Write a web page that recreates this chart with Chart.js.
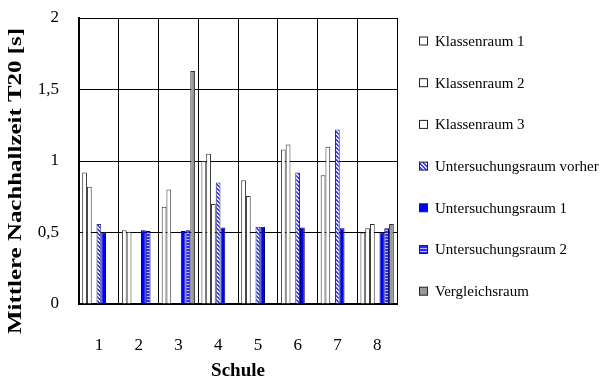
<!DOCTYPE html>
<html>
<head>
<meta charset="utf-8">
<script src="https://cdn.jsdelivr.net/npm/chart.js@4/dist/chart.umd.min.js"></script>
<style>
  html, body { margin: 0; padding: 0; background: #fff; }
  #chart { display: block; }
</style>
</head>
<body>
<canvas id="chart" width="603" height="380"></canvas>
<script>
// Schools on the x axis
const schools = ['1', '2', '3', '4', '5', '6', '7', '8'];

// Mean reverberation time T20 in seconds per room type
const klassenraum1       = [0.92, 0.515, 0.68, 1.00, 0.865, 1.08, 0.90, 0.50];
const klassenraum2       = [0.82, 0.505, 0.80, 1.05, 0.755, 1.115, 1.10, 0.53];
const klassenraum3       = [null, null, null, 0.70, null, null, null, 0.56];
const untersuchungVorher = [0.56, null, null, 0.85, 0.54, 0.92, 1.22, null];
const untersuchung1      = [0.50, 0.515, 0.51, 0.535, 0.54, 0.535, 0.53, 0.50];
const untersuchung2      = [null, 0.51, 0.515, null, null, null, null, 0.53];
const vergleichsraum     = [null, null, 1.63, null, null, null, null, 0.56];

const seriesNames = [
  'Klassenraum 1', 'Klassenraum 2', 'Klassenraum 3',
  'Untersuchungsraum vorher', 'Untersuchungsraum 1',
  'Untersuchungsraum 2', 'Vergleichsraum'
];

// y axis tick labels with German decimal comma
const yTickValues = [0, 0.5, 1, 1.5, 2];
const yTickLabels = ['0', '0,5', '1', '1,5', '2'];

const yTitle = 'Mittlere Nachhallzeit T20 [s]';
const xTitle = 'Schule';

// Fill patterns
function diagonalPattern() {
  const c = document.createElement('canvas');
  c.width = 4; c.height = 4;
  const g = c.getContext('2d');
  g.fillStyle = '#e4e4ff';
  g.fillRect(0, 0, 4, 4);
  g.fillStyle = '#3a3aff';
  for (let y = 0; y < 4; y++) {
    for (let x = 0; x < 4; x++) {
      const d = ((x - y) % 4 + 4) % 4;
      if (d === 0 || d === 1) g.fillRect(x, y, 1, 1);
    }
  }
  return g.createPattern(c, 'repeat');
}
function stripePattern() {
  const c = document.createElement('canvas');
  c.width = 3; c.height = 3;
  const g = c.getContext('2d');
  g.fillStyle = '#2a2aff';
  g.fillRect(0, 0, 3, 2);
  g.fillStyle = '#b8b8ff';
  g.fillRect(0, 2, 3, 1);
  return g.createPattern(c, 'repeat');
}

const fills = ['#ffffff', '#ffffff', '#ffffff', diagonalPattern(), '#0000ff', stripePattern(), '#999999'];
const edges = ['#333333', '#333333', '#333333', '#333366', '#000066', '#000066', '#333333'];
const seriesData = [klassenraum1, klassenraum2, klassenraum3, untersuchungVorher, untersuchung1, untersuchung2, vergleichsraum];

const serif = "'Liberation Serif', 'Times New Roman', serif";

// Legend and rotated y title drawn beside the plot
const sidePlugin = {
  id: 'sideText',
  afterDraw(chart) {
    const ctx = chart.ctx;
    ctx.save();
    // legend
    ctx.font = '15px ' + serif;
    ctx.textBaseline = 'middle';
    ctx.textAlign = 'left';
    seriesNames.forEach((name, i) => {
      const cy = 41 + i * 41.7;
      ctx.fillStyle = fills[i];
      ctx.fillRect(419.5, cy - 4, 8, 8);
      ctx.strokeStyle = '#222';
      ctx.lineWidth = 1;
      ctx.strokeRect(419.5, cy - 4, 8, 8);
      ctx.fillStyle = '#000';
      ctx.fillText(name, 435, cy + 1);
    });
    // y axis title, stretched along its length
    ctx.font = 'bold 18px ' + serif;
    const w = ctx.measureText(yTitle).width;
    const target = 306;
    ctx.translate(16, 181);
    ctx.rotate(-Math.PI / 2);
    ctx.scale(target / w, 1);
    ctx.textAlign = 'center';
    ctx.textBaseline = 'middle';
    ctx.fillStyle = '#000';
    ctx.fillText(yTitle, 0, 0);
    ctx.restore();
  }
};

new Chart(document.getElementById('chart'), {
  type: 'bar',
  data: {
    labels: schools,
    datasets: seriesData.map((d, i) => ({
      label: seriesNames[i],
      data: d,
      backgroundColor: fills[i],
      borderColor: edges[i],
      borderWidth: 1,
      categoryPercentage: 0.84,
      barPercentage: 1.0
    }))
  },
  options: {
    responsive: false,
    devicePixelRatio: 1,
    animation: false,
    layout: { padding: { left: 0, right: 206, top: 18, bottom: 0 } },
    plugins: {
      legend: { display: false },
      tooltip: { enabled: false }
    },
    scales: {
      x: {
        afterFit(s) { s.height = 76; },
        grid: { color: '#000', lineWidth: 1, offset: true, drawTicks: false },
        border: { color: '#000', width: 2 },
        ticks: { color: '#000', font: { family: serif, size: 17 }, padding: 31 },
        title: {
          display: true, text: xTitle, color: '#000',
          font: { family: serif, size: 19, weight: 'bold', lineHeight: 1 },
          padding: { top: 0, bottom: -1 }
        }
      },
      y: {
        min: 0, max: 2,
        afterFit(s) { s.width = 79; },
        afterBuildTicks(s) { s.ticks = yTickValues.map(v => ({ value: v })); },
        grid: { color: '#000', lineWidth: 1, drawTicks: true, tickLength: 19, tickColor: 'rgba(0,0,0,0)' },
        border: { color: '#000', width: 2 },
        ticks: {
          color: '#000', font: { family: serif, size: 17 }, padding: 1,
          callback: (v) => yTickLabels[yTickValues.indexOf(v)]
        }
      }
    }
  },
  plugins: [sidePlugin]
});
</script>
</body>
</html>
